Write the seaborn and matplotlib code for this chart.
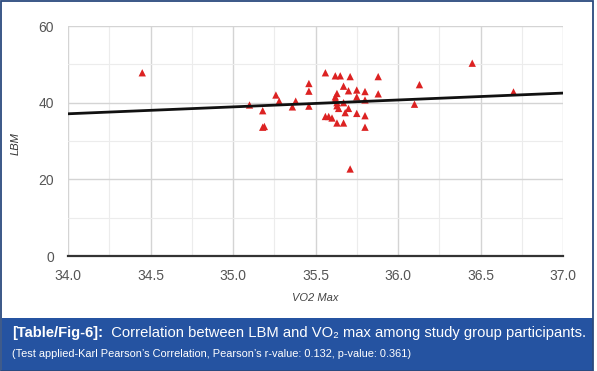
import matplotlib
matplotlib.use("Agg")
import matplotlib.pyplot as plt
from matplotlib.patches import Rectangle
from matplotlib.ticker import MultipleLocator
import seaborn as sns
import pandas as pd

# ---- data ----
vo2_max = [34.45, 35.10, 35.18, 35.18, 35.19, 35.26, 35.28, 35.36, 35.38,
           35.46, 35.46, 35.46, 35.56, 35.56, 35.58, 35.60, 35.62, 35.65,
           35.63, 35.62, 35.62, 35.63, 35.63, 35.64, 35.63, 35.67, 35.67,
           35.67, 35.68, 35.70, 35.70, 35.71, 35.71, 35.75, 35.75, 35.75,
           35.80, 35.80, 35.80, 35.80, 35.88, 35.88, 36.10, 36.13, 36.45, 36.70]
lbm = [47.8, 39.4, 37.9, 33.6, 33.8, 42.0, 40.4, 38.9, 40.4,
       45.0, 43.0, 39.1, 47.8, 36.4, 36.4, 36.0, 47.0, 47.0,
       42.4, 41.5, 40.8, 40.0, 39.2, 38.5, 34.7, 44.3, 40.0,
       34.7, 37.4, 43.1, 38.5, 46.8, 22.7, 43.3, 41.5, 37.2,
       42.9, 40.7, 36.6, 33.6, 46.8, 42.3, 39.6, 44.7, 50.3, 42.8]
trend_x = [34.0, 37.0]
trend_y = [37.1, 42.5]
x_ticks = [34.0, 34.5, 35.0, 35.5, 36.0, 36.5, 37.0]
y_ticks = [0, 20, 40, 60]
x_label = "VO2 Max"
y_label = "LBM"
caption_bold = "[Table/Fig-6]:"
caption_rest = "  Correlation between LBM and VO\u2082 max among study group participants."
caption_line2 = "(Test applied-Karl Pearson\u2019s Correlation, Pearson\u2019s r-value: 0.132, p-value: 0.361)"

df = pd.DataFrame({"vo2": vo2_max, "lbm": lbm})
tdf = pd.DataFrame({"x": trend_x, "y": trend_y})

sns.set_theme(style="white")
plt.rcParams["font.family"] = ["Liberation Sans", "DejaVu Sans"]

W, H = 597, 371
fig = plt.figure(figsize=(W / 100, H / 100), dpi=100)
fig.patch.set_facecolor("white")

ax = fig.add_axes([68 / W, 1 - 256 / H, (563 - 68) / W, (256 - 26) / H])
ax.set_facecolor("white")

sns.scatterplot(data=df, x="vo2", y="lbm", marker="^", color="#dc2222",
                s=28, edgecolor="none", ax=ax, zorder=3)
sns.lineplot(data=tdf, x="x", y="y", color="#111111", linewidth=2.0, ax=ax, zorder=4)

ax.set_xlim(34.0, 37.0)
ax.set_ylim(0, 60)
ax.set_xticks(x_ticks)
ax.set_xticklabels([f"{t:.1f}" for t in x_ticks])
ax.set_yticks(y_ticks)
ax.set_yticklabels([str(t) for t in y_ticks])
ax.xaxis.set_minor_locator(MultipleLocator(0.25))
ax.yaxis.set_minor_locator(MultipleLocator(10))
ax.grid(True, which="major", color="#d4d4d4", linewidth=1.0)
ax.grid(True, which="minor", color="#ececec", linewidth=0.8)
ax.set_axisbelow(True)
for side in ["top", "right", "left"]:
    ax.spines[side].set_visible(False)
ax.spines["bottom"].set_color("#333333")
ax.spines["bottom"].set_linewidth(1.6)
ax.tick_params(axis="both", which="both", length=0, labelsize=10, labelcolor="#555555")
ax.tick_params(axis="x", pad=9)
ax.tick_params(axis="y", pad=10)
ax.set_xlabel(x_label, fontsize=8, style="italic", color="#444444")
ax.set_ylabel(y_label, fontsize=8, style="italic", color="#333333")
ax.xaxis.set_label_coords(0.5, -0.162)
ax.yaxis.set_label_coords(-0.096, 0.49)

# caption band
fig.patches.append(Rectangle((2 / W, 0), (593 - 2) / W, (H - 318) / H,
                             transform=fig.transFigure, facecolor="#2553a1",
                             edgecolor="none", zorder=0))
# border
fig.patches.append(Rectangle((1 / W, 0.5 / H), (593 - 1) / W, (H - 1.5) / H,
                             transform=fig.transFigure, facecolor="none",
                             edgecolor="#2b4a7e", linewidth=1.3, zorder=5))

cap_font = ["Liberation Sans", "DejaVu Sans"]
t1 = fig.text(12 / W, 1 - 337 / H, caption_bold, color="white", fontsize=10.6,
              fontweight="bold", family=cap_font, va="baseline")
fig.canvas.draw()
bb = t1.get_window_extent()
fig.text(bb.x1 / W, 1 - 337 / H, caption_rest, color="white", fontsize=10.6,
         family=cap_font, va="baseline")
fig.text(12 / W, 1 - 357 / H, caption_line2, color="white", fontsize=7.9,
         family=cap_font, va="baseline")

fig.savefig("out.png", dpi=100, facecolor="white")
